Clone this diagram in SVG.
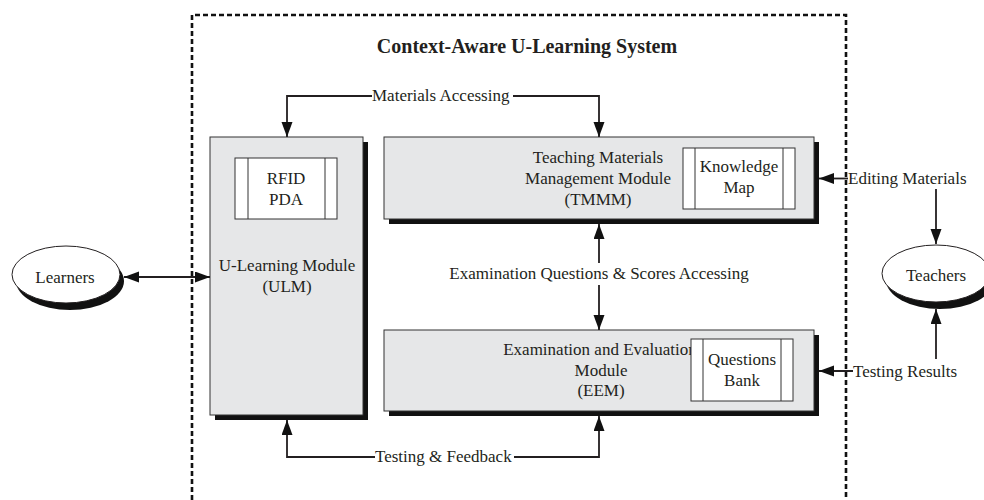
<svg xmlns="http://www.w3.org/2000/svg" width="984" height="500" viewBox="0 0 984 500">
<defs>
<style>
text{font-family:"Liberation Serif","Times New Roman",serif;font-size:17px;fill:#231f20;text-anchor:middle}
.title{font-weight:bold;font-size:20px}
.lbl{text-anchor:start}
.box{fill:#e6e7e8;stroke:#333;stroke-width:1}
.shadow{fill:#111}
.inner{fill:#fff;stroke:#333;stroke-width:1}
.ell{fill:#fff;stroke:#231f20;stroke-width:1}
.conn{fill:none;stroke:#231f20;stroke-width:1.8}
.frame{fill:none;stroke:#111;stroke-width:2.6;stroke-dasharray:5 3}
</style>
<marker id="ah" markerUnits="userSpaceOnUse" markerWidth="16" markerHeight="12" refX="15" refY="5.5" orient="auto-start-reverse">
<path d="M0,0 L15,5.5 L0,11 z" fill="#111"/>
</marker>
</defs>
<rect width="984" height="500" fill="#fff"/>

<g id="frame">
<path class="frame" d="M192,500 V15 H846 V500"/>
<text class="title" x="527" y="53">Context-Aware U-Learning System</text>
</g>

<g id="learners">
<ellipse cx="70" cy="281" rx="54" ry="29" class="shadow"/>
<ellipse cx="66" cy="274.5" rx="54" ry="28.5" class="ell"/>
<text x="65" y="282.5">Learners</text>
</g>

<g id="teachers">
<ellipse cx="940" cy="280" rx="54" ry="29" class="shadow"/>
<ellipse cx="936" cy="273.5" rx="54" ry="28.5" class="ell"/>
<text x="936" y="281">Teachers</text>
</g>

<g id="ulm">
<rect x="215" y="142" width="153" height="278" class="shadow"/>
<rect x="210" y="137" width="153" height="278" class="box"/>
<text x="287" y="271">U-Learning Module</text>
<text x="287" y="292">(ULM)</text>
</g>

<g id="rfid">
<rect x="235" y="158" width="102" height="61" class="inner"/>
<line x1="248" y1="158" x2="248" y2="219" stroke="#333"/>
<line x1="325" y1="158" x2="325" y2="219" stroke="#333"/>
<text x="286" y="184">RFID</text>
<text x="286" y="205">PDA</text>
</g>

<g id="tmmm">
<rect x="389" y="142" width="430" height="82" class="shadow"/>
<rect x="384" y="137" width="430" height="82" class="box"/>
<text x="598" y="163">Teaching Materials</text>
<text x="598" y="184">Management Module</text>
<text x="598" y="205">(TMMM)</text>
</g>

<g id="knowledge-map">
<rect x="683" y="148" width="112" height="61" class="inner"/>
<line x1="695" y1="148" x2="695" y2="209" stroke="#333"/>
<line x1="783" y1="148" x2="783" y2="209" stroke="#333"/>
<text x="739" y="172">Knowledge</text>
<text x="739" y="193">Map</text>
</g>

<g id="eem">
<rect x="389" y="335" width="430" height="81" class="shadow"/>
<rect x="384" y="330" width="430" height="81" class="box"/>
<text x="600" y="355">Examination and Evaluation</text>
<text x="601" y="376">Module</text>
<text x="601" y="396">(EEM)</text>
</g>

<g id="questions-bank">
<rect x="691" y="339" width="102" height="62" class="inner"/>
<line x1="703" y1="339" x2="703" y2="401" stroke="#333"/>
<line x1="781" y1="339" x2="781" y2="401" stroke="#333"/>
<text x="742" y="364.5">Questions</text>
<text x="742" y="385.5">Bank</text>
</g>

<g id="connectors">
<path class="conn" d="M372,96 H287 V137" marker-end="url(#ah)"/>
<path class="conn" d="M513,96 H599 V137" marker-end="url(#ah)"/>
<text class="lbl" x="372" y="101">Materials Accessing</text>

<path class="conn" d="M375,457 H287 V420" marker-end="url(#ah)"/>
<path class="conn" d="M514,457 H599 V416" marker-end="url(#ah)"/>
<text class="lbl" x="375" y="462">Testing &amp; Feedback</text>

<path class="conn" d="M599,263 V224" marker-end="url(#ah)"/>
<path class="conn" d="M599,285 V330" marker-end="url(#ah)"/>
<text x="599" y="279">Examination Questions &amp; Scores Accessing</text>

<path class="conn" d="M124,277 H210" marker-start="url(#ah)" marker-end="url(#ah)"/>

<path class="conn" d="M848,178.5 H819" marker-end="url(#ah)"/>
<text class="lbl" x="848" y="184">Editing Materials</text>
<path class="conn" d="M936,189 V244" marker-end="url(#ah)"/>

<path class="conn" d="M853,371 H819" marker-end="url(#ah)"/>
<text class="lbl" x="853" y="376.5">Testing Results</text>
<path class="conn" d="M936,359 V309" marker-end="url(#ah)"/>
</g>
</svg>
